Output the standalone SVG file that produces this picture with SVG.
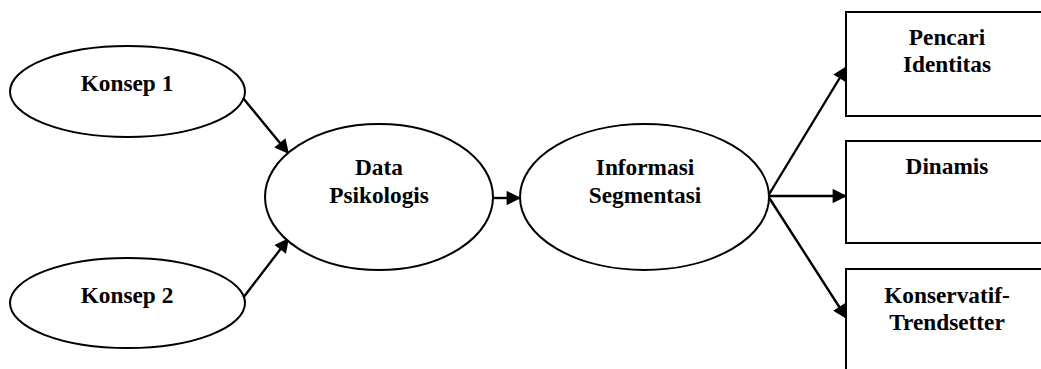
<svg xmlns="http://www.w3.org/2000/svg" width="1041" height="369" viewBox="0 0 1041 369">
<defs>
<style>
.n{fill:#fff;stroke:#000;stroke-width:2}
.t{font-family:'Liberation Serif','Times New Roman',serif;font-weight:700;font-size:23.3px;fill:#000;text-anchor:middle}
.c{stroke:#000;stroke-width:2.4;fill:none;marker-end:url(#ah)}
</style>
<marker id="ah" viewBox="0 0 10 10" refX="10" refY="5" markerWidth="6.5" markerHeight="6" markerUnits="strokeWidth" orient="auto">
<path d="M0,0 L10,5 L0,10 z" fill="#000"/>
</marker>
</defs>
<rect width="1041" height="369" fill="#fff"/>
<g id="connectors">
<line class="c" x1="243" y1="98" x2="289" y2="154"/>
<line class="c" x1="243" y1="298" x2="289" y2="238"/>
<line class="c" x1="493" y1="198" x2="521" y2="198"/>
<line class="c" x1="768" y1="196" x2="847" y2="66"/>
<line class="c" x1="768" y1="196" x2="847" y2="196"/>
<line class="c" x1="768" y1="196" x2="847" y2="319"/>
</g>
<g id="konsep1">
<ellipse class="n" cx="127.5" cy="91.5" rx="117.5" ry="45.5"/>
<text class="t" x="127" y="91">Konsep 1</text>
</g>
<g id="konsep2">
<ellipse class="n" cx="127.5" cy="303" rx="117.5" ry="45"/>
<text class="t" x="127" y="303">Konsep 2</text>
</g>
<g id="data">
<ellipse class="n" cx="379" cy="197" rx="114" ry="73"/>
<text class="t" x="379" y="175">Data</text>
<text class="t" x="379" y="203">Psikologis</text>
</g>
<g id="informasi">
<ellipse class="n" cx="644.5" cy="197" rx="124.5" ry="73"/>
<text class="t" x="645" y="175">Informasi</text>
<text class="t" x="645" y="203">Segmentasi</text>
</g>
<g id="pencari">
<rect class="n" x="846" y="12" width="210" height="104"/>
<text class="t" x="947" y="45">Pencari</text>
<text class="t" x="947" y="72">Identitas</text>
</g>
<g id="dinamis">
<rect class="n" x="846" y="141" width="210" height="102"/>
<text class="t" x="947" y="174">Dinamis</text>
</g>
<g id="konservatif">
<rect class="n" x="846" y="269" width="210" height="120"/>
<text class="t" x="947" y="303">Konservatif-</text>
<text class="t" x="947" y="330">Trendsetter</text>
</g>
</svg>
